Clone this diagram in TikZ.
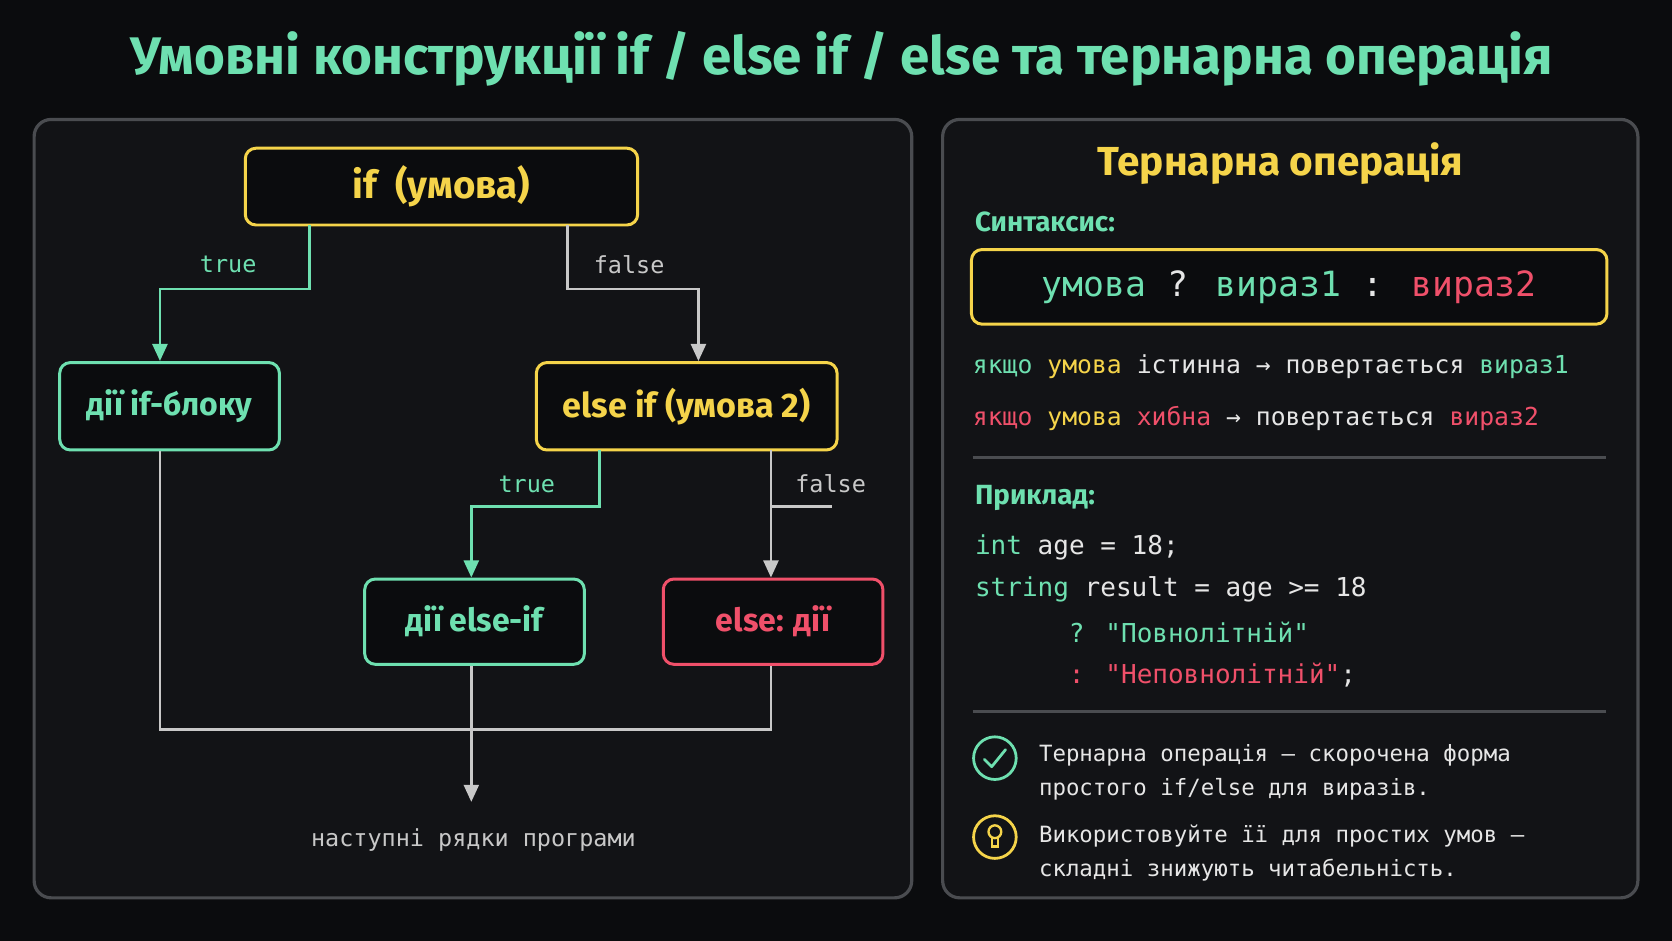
\documentclass[tikz,border=0pt]{standalone}
\usepackage{fontspec}
\setmainfont{Fira Sans}
\newfontfamily\mono{DejaVu Sans Mono}
\newfontfamily\bsf{Fira Sans}[UprightFont=* Bold]
\usetikzlibrary{arrows.meta}
\definecolor{bg}{HTML}{0B0C0E}
\definecolor{pan}{HTML}{121316}
\definecolor{pbd}{HTML}{4A4C50}
\definecolor{gr}{HTML}{6EE0B0}
\definecolor{ye}{HTML}{F5D44A}
\definecolor{rd}{HTML}{F0506A}
\definecolor{lg}{HTML}{C8C8C8}
\definecolor{tx}{HTML}{E6E6E6}
\begin{document}
\begin{tikzpicture}[x=0.5pt,y=-0.5pt,
 panel/.style={draw=pbd,line width=1.5pt,fill=pan,rounded corners=8pt},
 box/.style={draw=#1,line width=1.4pt,rounded corners=5pt,fill=bg,text=#1,font=\bsf\fontsize{15}{18}\selectfont},
 ln/.style={line width=1.2pt,draw=#1,-{Triangle[length=8pt,width=7pt]}},
 lbl/.style={font=\mono\fontsize{11}{13}\selectfont,text=#1},
 mt/.style={font=\mono\fontsize{11.6}{14}\selectfont,text=tx,anchor=west,inner sep=0},
 ct/.style={font=\mono\fontsize{12.2}{15}\selectfont,text=tx,anchor=west,inner sep=0},
 nt/.style={font=\mono\fontsize{10.5}{13}\selectfont,text=tx,anchor=west,inner sep=0},
 hd/.style={font=\bsf\fontsize{13}{15}\selectfont,text=gr,anchor=west,inner sep=0}]
\fill[bg] (0,0) rectangle (1568,882);
\useasboundingbox (0,0) rectangle (1568,882);
\node[font=\bsf\fontsize{24.8}{30}\selectfont,text=gr] (title) at (789,55) {Умовні конструкції if / else if / else та тернарна операція};
\draw[panel] (32,112) rectangle (855,842);
\draw[panel] (884,112) rectangle (1536,842);
% flowchart
\node[box=ye,minimum width=184pt,minimum height=36pt,font=\bsf\fontsize{18}{22}\selectfont] (if) at (414,175) {if\ \ (умова)};
\node[box=gr,minimum width=103pt,minimum height=41pt] (a1) at (159,381) {дії if-блоку};
\node[box=ye,minimum width=141pt,minimum height=41pt,font=\bsf\fontsize{16}{20}\selectfont] (ei) at (644,381) {else if (умова 2)};
\node[box=gr,minimum width=103pt,minimum height=40pt] (a2) at (445,583) {дії else-if};
\node[box=rd,minimum width=103pt,minimum height=40pt] (a3) at (725,583) {else: дії};
\node[font=\mono\fontsize{11}{13}\selectfont,text=lg] (next) at (444,788) {наступні рядки програми};
\coordinate (c1) at (290,211);
\coordinate (c2) at (532,211);
\draw[ln=gr] (c1) -- (290,271) -- (150,271) -- (150,|-a1.north);
\draw[ln=lg] (c2) -- (532,271) -- (655,271) -- (655,|-ei.north);
\node[lbl=gr] (t1) at (214,248) {true};
\node[lbl=lg] (f1) at (590,248) {false};
\coordinate (c3) at (562,422);
\coordinate (c4) at (723,422);
\draw[ln=gr] (c3) -- (562,475) -- (442,475) -- (442,|-a2.north);
\draw[ln=lg] (c4) -- (723,|-a3.north);
\draw[lg,line width=1.2pt] (723,475) -- (780,475);
\node[lbl=gr] (t2) at (494,454) {true};
\node[lbl=lg] (f2) at (779,454) {false};
\draw[lg,line width=1.2pt] (150,|-a1.south) -- (150,684) -- (723,684) -- (723,|-a3.south);
\draw[ln=lg] (442,|-a2.south) -- (442,752);
% right panel
\node[font=\bsf\fontsize{19}{22}\selectfont,text=ye] (tt) at (1201,153) {Тернарна операція};
\node[hd] (syn) at (914,208) {Синтаксис:};
\node[draw=ye,line width=1.4pt,rounded corners=5pt,fill=bg,minimum width=298pt,minimum height=35pt,font=\mono\fontsize{16.3}{19}\selectfont,text=tx] (sb) at (1209,269) {\textcolor{gr}{умова} ? \textcolor{gr}{вираз1} : \textcolor{rd}{вираз2}};
\node[mt] (l1) at (912,344) {\textcolor{gr}{якщо} \textcolor{ye}{умова} істинна → повертається \textcolor{gr}{вираз1}};
\node[mt] (l2) at (912,392) {\textcolor{rd}{якщо} \textcolor{ye}{умова} \textcolor{rd}{хибна} → повертається \textcolor{rd}{вираз2}};
\draw[pbd,line width=1.2pt] (912,429) -- (1506,429);
\node[hd] (ex) at (914,467) {Приклад:};
\node[ct] (k1) at (914,513) {\textcolor{gr}{int} age = 18;};
\node[ct] (k2) at (914,553) {\textcolor{gr}{string} result = age >= 18};
\node[ct] (k3) at (1002,593) {\textcolor{gr}{? "Повнолітній"}};
\node[ct] (k4) at (1002,633) {\textcolor{rd}{: "Неповнолітній"};};
\draw[pbd,line width=1.2pt] (912,667) -- (1506,667);
\node[circle,draw=gr,line width=1.3pt,minimum size=20pt,inner sep=0] (ic1) at (933,711) {};
\draw[gr,line width=1.3pt,line cap=round,line join=round] (923,712) -- (930,719) -- (943,703);
\node[nt] (n1) at (974,708) {Тернарна операція — скорочена форма};
\node[nt] (n2) at (974,740) {простого if/else для виразів.};
\node[circle,draw=ye,line width=1.3pt,minimum size=20pt,inner sep=0] (ic2) at (933,785) {};
\draw[ye,line width=1.1pt] (933,780) circle (6);
\draw[ye,line width=1.1pt] (930,786) -- (930,794) -- (936,794) -- (936,786);
\node[nt] (n3) at (974,784) {Використовуйте її для простих умов —};
\node[nt] (n4) at (974,816) {складні знижують читабельність.};
\end{tikzpicture}
\end{document}
